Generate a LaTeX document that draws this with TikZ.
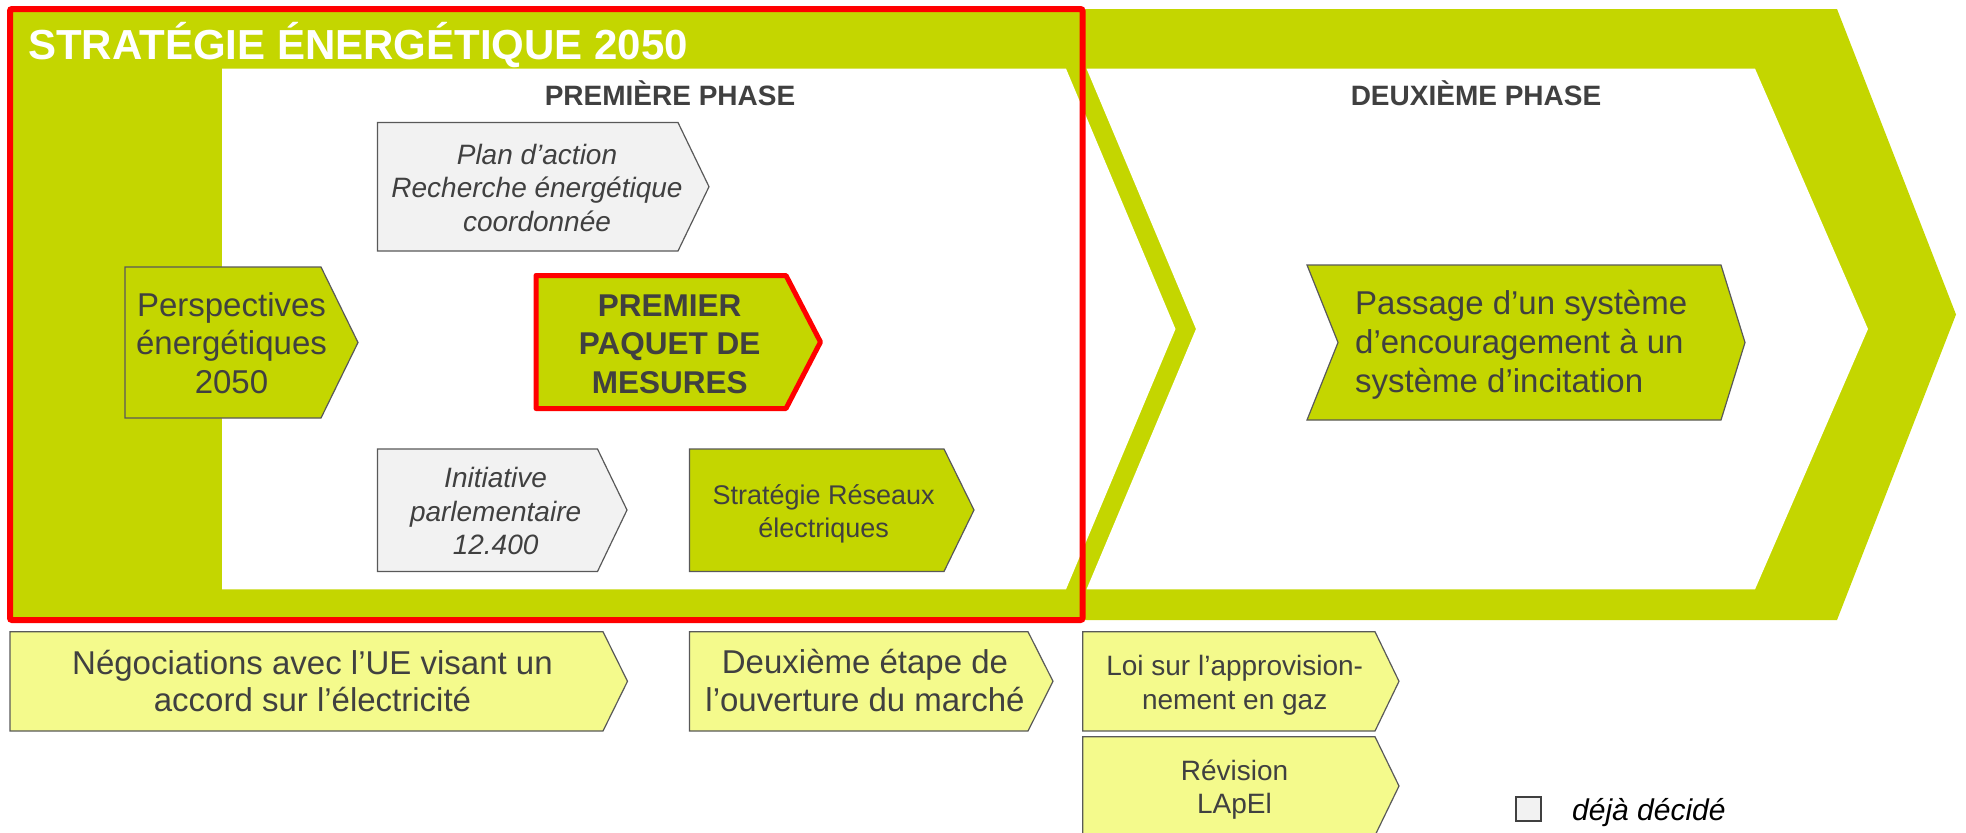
\documentclass[tikz,border=0pt]{standalone}
\usepackage{fontspec}
\setmainfont{Liberation Sans}
\definecolor{cgreen}{HTML}{C4D600}
\definecolor{cyellow}{HTML}{F4FA8C}
\definecolor{cgray}{HTML}{F2F2F2}
\definecolor{ctext}{HTML}{404040}
\definecolor{cborder}{HTML}{595959}
\definecolor{cred}{HTML}{FF0000}
\begin{document}
\begin{tikzpicture}[x=1pt,y=-1pt,
  chev/.style={draw=cborder, line width=1.2pt, line join=miter},
  txt/.style 2 args={font=\fontsize{#1}{#2}\selectfont, text=ctext, align=center, inner sep=0pt, anchor=north, yshift={0.7*#2*1pt}},
  ltxt/.style 2 args={font=\fontsize{#1}{#2}\selectfont, text=ctext, align=left, inner sep=0pt, anchor=north west, yshift={0.7*#2*1pt}},
  phase/.style={font=\fontsize{28}{34}\selectfont\bfseries, text=ctext, inner sep=0pt, anchor=base}
]
\useasboundingbox (0,0) rectangle (1966,833);
% background chevrons
\fill[cgreen] (10,9) -- (1837,9) -- (1956,314.5) -- (1837,620) -- (10,620) -- cycle;
\fill[white] (222,68.6) -- (1066,68.6) -- (1175.5,329) -- (1066,589.4) -- (222,589.4) -- cycle;
\fill[white] (1086.5,68.6) -- (1755,68.6) -- (1868,329) -- (1755,589.4) -- (1086.5,589.4) -- (1196,329) -- cycle;

\node[font=\fontsize{42}{50}\selectfont\bfseries, text=white, inner sep=0pt, anchor=base west] (title) at (28,59) {STRATÉGIE ÉNERGÉTIQUE 2050};
\node[phase] (ph1) at (670,105) {PREMIÈRE PHASE};
\node[phase] (ph2) at (1476,105) {DEUXIÈME PHASE};

% boxes
\filldraw[chev, fill=cgray] (377.5,122.5) -- (678,122.5) -- (709,186.7) -- (678,251) -- (377.5,251) -- cycle;
\node[txt={28}{33.4}, font=\fontsize{28}{33.4}\selectfont\itshape] (plan) at (537,164) {\strut Plan d’action\\Recherche énergétique\\coordonnée\strut};

\filldraw[chev, fill=cgreen] (125,267) -- (321,267) -- (358,342.5) -- (321,418) -- (125,418) -- cycle;
\node[txt={33}{38.3}] (persp) at (231.5,316.3) {\strut Perspectives\\énergétiques\\2050\strut};

\filldraw[fill=cgreen, draw=cred, line width=5pt, line join=round] (536,275.5) -- (786,275.5) -- (820.5,342) -- (786,408.5) -- (536,408.5) -- cycle;
\node[txt={31.5}{38.7}, font=\fontsize{31.5}{38.7}\selectfont\bfseries] (premier) at (669.7,316) {\strut PREMIER\\PAQUET DE\\MESURES\strut};

\filldraw[chev, fill=cgray] (377.5,449) -- (597.5,449) -- (627,510) -- (597.5,571.5) -- (377.5,571.5) -- cycle;
\node[txt={28}{33.3}, font=\fontsize{28}{33.3}\selectfont\itshape] (init) at (495.6,487.5) {\strut Initiative\\parlementaire\\12.400\strut};

\filldraw[chev, fill=cgreen] (689.5,449) -- (944,449) -- (974,510) -- (944,571.5) -- (689.5,571.5) -- cycle;
\node[txt={27}{33}] (reseaux) at (823.6,504) {\strut Stratégie Réseaux\\électriques\strut};

\filldraw[chev, fill=cgreen] (1307,265) -- (1721,265) -- (1745,342.5) -- (1721,420) -- (1307,420) -- (1338,342.5) -- cycle;
\node[ltxt={33}{39.3}] (passage) at (1355,314) {\strut Passage d’un système\\d’encouragement à un\\système d’incitation\strut};

% bottom row
\filldraw[chev, fill=cyellow] (10,631.7) -- (603,631.7) -- (627.5,681.3) -- (603,731) -- (10,731) -- cycle;
\node[txt={33}{37.7}] (negoc) at (312.5,674) {\strut Négociations avec l’UE visant un\\accord sur l’électricité\strut};

\filldraw[chev, fill=cyellow] (689.5,631.7) -- (1028,631.7) -- (1053,681.3) -- (1028,731) -- (689.5,731) -- cycle;
\node[txt={33}{38.4}] (deux) at (865,673.3) {\strut Deuxième étape de\\l’ouverture du marché\strut};

\filldraw[chev, fill=cyellow] (1082.7,631.7) -- (1375,631.7) -- (1399,681.3) -- (1375,731) -- (1082.7,731) -- cycle;
\node[txt={28}{34.3}] (loi) at (1234.7,675) {\strut Loi sur l’approvision-\\nement en gaz\strut};

\filldraw[chev, fill=cyellow] (1082.7,736.7) -- (1375,736.7) -- (1399,786) -- (1375,835.5) -- (1082.7,835.5) -- cycle;
\node[txt={28}{33.3}] (revision) at (1234.5,780) {\strut Révision\\LApEl\strut};

% legend
\filldraw[fill=cgray, draw=ctext, line width=1.5pt] (1516,797) rectangle (1541,821);
\node[font=\fontsize{30}{36}\selectfont\itshape, text=black, inner sep=0pt, anchor=base west] (legend) at (1572,820) {déjà décidé};

% red frame
\draw[cred, line width=6pt, rounded corners=2pt] (10,9) rectangle (1082.5,620);
\end{tikzpicture}
\end{document}
